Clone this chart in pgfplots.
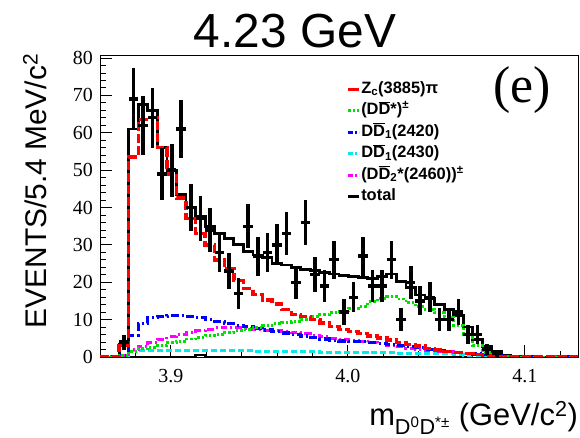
\documentclass[border=0pt]{standalone}
\usepackage{fontspec}
\setmainfont{Liberation Serif}
\newfontfamily\arial{Liberation Sans}
\usepackage{pgfplots}
\usepackage{pgfplotstable}
\pgfplotsset{compat=1.18}
\newcommand\obar[1]{\ensuremath{\overline{\mbox{#1}}}}
\definecolor{rgreen}{RGB}{0,225,0}
\definecolor{rblue}{RGB}{0,0,255}
\definecolor{rcyan}{RGB}{0,235,235}
\definecolor{rmag}{RGB}{255,0,255}
\definecolor{rred}{RGB}{255,0,0}

\pgfplotstableread{
x red green blue cyan mag tot
3.8600 0 0 0 0 0 0
3.8654 0 0 0 0 0 0
3.8708 3 0.3 0.5 0.5 0.3 3.5
3.8762 53.5 1.5 5.8 1.6 2.0 61
3.8816 63.5 2.2 8.9 1.7 2.7 67.5
3.8870 64 2.6 10.5 1.7 4.0 66
3.8924 56 3.0 10.8 1.7 4.8 56
3.8978 49 3.8 11 1.7 5.4 50
3.9032 42.5 4.2 11 1.7 6.0 43.5
3.9086 37 4.8 10.8 1.7 6.5 40
3.9140 33 5.3 10.6 1.7 7.0 37.5
3.9194 30 5.8 10.0 1.7 7.4 35
3.9248 26 6.1 9.5 1.7 7.8 33
3.9302 23.5 6.6 9.0 1.7 7.9 31.8
3.9356 20.5 7.0 8.5 1.7 7.9 30.2
3.9410 18.3 7.3 8.1 1.7 7.7 28.3
3.9464 16.7 7.8 7.7 1.5 7.4 27.3
3.9518 15.2 8.4 7.2 1.5 7.2 26.6
3.9572 14.2 8.9 6.8 1.5 7.0 25
3.9626 12.7 9.3 6.4 1.5 6.8 24.6
3.9680 11.4 9.6 6.1 1.5 6.5 24
3.9734 10.8 10.1 5.6 1.5 6.2 23.5
3.9788 10 10.8 5.2 1.5 5.8 23.2
3.9842 9.1 11.3 4.8 1.2 5.4 22.7
3.9896 8.2 11.8 4.5 1.2 5.0 22.2
3.9950 7.4 12.3 4.3 1.2 4.7 21.7
4.0004 6.8 13.0 4.2 1.2 4.5 21.5
4.0058 6.3 13.6 4.1 1.2 4.2 21.2
4.0112 5.6 14.8 3.9 1.2 3.9 21
4.0166 5.1 15.6 3.7 1.2 3.5 21.5
4.0220 4.6 16.1 3.4 1.2 3.2 22.2
4.0274 3.9 15.5 3.0 1.0 2.8 20.2
4.0328 3.3 14.5 2.8 1.0 2.4 18.6
4.0382 2.9 13.6 2.5 1.0 2.1 16.6
4.0436 2.3 12.7 2.1 1.0 1.8 15.7
4.0490 1.9 11.8 1.8 1.0 1.6 14
4.0544 1.5 10.6 1.4 1.0 1.4 12.8
4.0598 1.2 8.5 1.2 0.7 1.2 11
4.0652 0.9 6.0 1.0 0.5 1.0 8
4.0706 0.6 3.0 0.8 0.4 0.8 4.7
4.0760 0.3 1.2 0.6 0.3 0.6 2.8
4.0814 0.1 0.2 0.4 0.1 0.4 1.5
4.0868 0 0 0.2 0 0.2 0.4
4.0922 0 0 0 0 0 0
4.0976 0 0 0 0 0 0
4.1030 0 0 0 0 0 0
4.1084 0 0 0 0 0 0
4.1138 0 0 0 0 0 0
4.1192 0 0 0 0 0 0
4.1246 0 0 0 0 0 0
4.1300 0 0 0 0 0 0
}\hist

\pgfplotstableread{
x y e
3.8735 4 2
3.8789 69 8.31
3.8843 62 7.87
3.8897 64 8
3.8951 49 7
3.9005 50 7.07
3.9059 61 7.81
3.9113 40 6.32
3.9167 37 6.08
3.9221 34 5.83
3.9275 28 5.29
3.9329 23 4.80
3.9383 17 4.12
3.9437 35 5.92
3.9491 27 5.20
3.9545 28 5.29
3.9599 30 5.48
3.9653 33 5.74
3.9707 20 4.47
3.9761 36 6
3.9815 22 4.69
3.9869 19 4.36
3.9923 26 5.10
3.9977 12 3.46
4.0031 16 4
4.0085 27 5.20
4.0139 19 4.36
4.0193 19 4.36
4.0247 26 5.10
4.0301 10 3.16
4.0355 20 4.47
4.0409 15 3.87
4.0463 16 4
4.0517 10 3.16
4.0571 10 3.16
4.0625 12 3.46
4.0679 6 2.45
4.0733 6 2.45
4.0787 2 1.41
4.0841 1 1
}\data

\begin{document}
\begin{tikzpicture}
\useasboundingbox (0,0) rectangle (580bp,438bp);
\begin{axis}[
  at={(100bp,81bp)}, anchor=south west,
  scale only axis, width=478bp, height=302bp,
  xmin=3.86, xmax=4.13, ymin=0, ymax=80.8,
  xtick={3.9,4.0,4.1}, xticklabels={3.9,4.0,4.1},
  minor xtick={3.88,3.92,3.94,3.96,3.98,4.02,4.04,4.06,4.08,4.12},
  ytick={0,10,...,80}, minor y tick num=4,
  xtick pos=bottom, ytick pos=left, tick align=inside,
  major tick length=12bp, minor tick length=6bp,
  axis line style={line width=0.8bp},
  every tick/.style={black, line width=0.8bp},
  /pgf/number format/assume math mode=true,
  yticklabel style={font=\fontsize{20}{24}\selectfont, inner sep=0pt, xshift=-7bp},
  xticklabel style={font=\fontsize{20}{24}\selectfont, inner sep=0pt, yshift=-12bp},
  legend style={at={(0.515,0.915)}, anchor=north west, draw=none, fill=none,
    font=\arial\bfseries\fontsize{16.5}{19}\selectfont, row sep=4.5bp, inner sep=0pt,
    nodes={inner sep=0.5bp, text height=12bp, text depth=4bp}, cells={anchor=west}},
  legend image code/.code={\draw[#1] (0bp,0bp) -- (11bp,0bp);},
]
% total
\addplot[const plot, black, line width=2.8bp, forget plot] table[x=x, y=tot] {\hist};
\addplot[const plot, black, line width=2.5bp, forget plot] coordinates {(3.8762,0) (3.9140,0.6) (3.9194,0) (4.0706,0) (4.0706,0)};
% components
\addplot[const plot, rcyan, line width=2.8bp, dash pattern=on 6bp off 3bp, forget plot] table[x=x, y=cyan] {\hist};
\addplot[const plot, rmag, line width=3bp, dash pattern=on 7bp off 3bp on 2bp off 3bp, forget plot] table[x=x, y=mag] {\hist};
\addplot[const plot, rblue, line width=3.2bp, dash pattern=on 8bp off 3bp on 2bp off 3bp, forget plot] table[x=x, y=blue] {\hist};
\addplot[const plot, rgreen, line width=2.8bp, dash pattern=on 2.5bp off 2bp, forget plot] table[x=x, y=green] {\hist};
\addplot[const plot, rred, line width=3.4bp, dash pattern=on 9bp off 3bp, forget plot] table[x=x, y=red] {\hist};
% data: vertical bars
\addplot[draw=none, mark=none, forget plot,
  error bars/.cd, y dir=both, y explicit,
  error mark=none, error bar style={line width=3.6bp, draw=black, solid, line cap=butt}]
  table[x=x, y=y, y error=e] {\data};
% data: horizontal bars
\addplot[draw=none, mark=none, forget plot,
  error bars/.cd, x dir=both, x fixed=0.0027,
  error mark=none, error bar style={line width=3.3bp, draw=black, solid, line cap=butt}]
  table[x=x, y=y] {\data};

\addlegendimage{rred, line width=3.4bp}
\addlegendentry{Z\textsubscript{c}(3885)π}
\addlegendimage{rgreen, line width=2.8bp, dash pattern=on 2.5bp off 2bp}
\addlegendentry{(D\obar{D}*)\textsuperscript{±}}
\addlegendimage{rblue, line width=3.2bp, dash pattern=on 5bp off 2bp on 2bp off 2bp}
\addlegendentry{D\obar{D}\textsubscript{1}(2420)}
\addlegendimage{rcyan, line width=2.8bp, dash pattern=on 5bp off 2bp on 2bp off 2bp}
\addlegendentry{D\obar{D}\textsubscript{1}(2430)}
\addlegendimage{rmag, line width=3bp, dash pattern=on 5bp off 2bp on 2bp off 2bp}
\addlegendentry{(D\obar{D}\textsubscript{2}*(2460))\textsuperscript{±}}
\addlegendimage{black, line width=2.8bp}
\addlegendentry{total}
\end{axis}
\node[anchor=base, font=\arial\fontsize{48}{56}\selectfont] at (295bp,390bp) {4.23 GeV};
\node[rotate=90, font=\arial\fontsize{30}{36}\selectfont] at (35bp,247bp) {EVENTS/5.4 MeV/c\textsuperscript{2}};
\node[anchor=base east, font=\arial\fontsize{31}{36}\selectfont, inner sep=0pt] at (578bp,13bp) {m\textsubscript{D\textsuperscript{0}D\textsuperscript{*±}} (GeV/c\textsuperscript{2})};
\node[font=\fontsize{52}{60}\selectfont] at (522bp,348bp) {(e)};
\end{tikzpicture}
\end{document}
